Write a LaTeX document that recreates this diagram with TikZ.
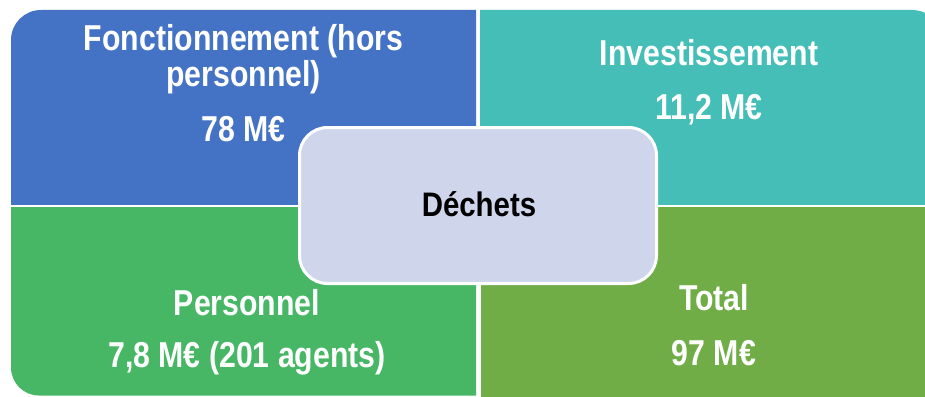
\documentclass[tikz,border=0pt]{standalone}
\usepackage{fontspec}
\setmainfont{Liberation Sans}
\newfontfamily\qfont[FakeStretch=0.84]{Liberation Sans Bold}
\newfontfamily\cfont[FakeStretch=0.865]{Liberation Sans Bold}
\definecolor{qblue}{HTML}{4472C4}
\definecolor{qteal}{HTML}{45BEB8}
\definecolor{qgreen}{HTML}{47B765}
\definecolor{qolive}{HTML}{70AD47}
\definecolor{qcenter}{HTML}{CFD5EA}
\tikzset{
  qtext/.style={anchor=base, text=white, inner sep=0pt, font=\qfont\fontsize{36}{36}\selectfont},
  ctext/.style={draw=white, line width=3pt, fill=qcenter, rounded corners=28pt,
    minimum width=357pt, minimum height=156pt, inner sep=0pt},
}
\begin{document}
\begin{tikzpicture}[x=1pt,y=-1pt]
\useasboundingbox (0,0) rectangle (925,396);
\fill[white] (0,0) rectangle (925,396);
% quadrants
\begin{scope}
  \clip (11,10) rectangle (476,204);
  \fill[qblue, rounded corners=30pt] (11,10) rectangle (540,260);
\end{scope}
\begin{scope}
  \clip (480,10) rectangle (925,204);
  \fill[qteal, rounded corners=30pt] (420,10) rectangle (942,260);
\end{scope}
\begin{scope}
  \clip (11,207.5) rectangle (476,396);
  \fill[qgreen, rounded corners=28pt] (11,150) rectangle (540,395.5);
\end{scope}
\begin{scope}
  \clip (481,207.5) rectangle (925,396);
  \fill[qolive, rounded corners=28pt] (420,150) rectangle (946,420);
\end{scope}
% texts
\node[qtext] (f1) at (243.5,51) {Fonctionnement (hors};
\node[qtext] (f2) at (243.5,86) {personnel)};
\node[qtext] (f3) at (243.5,141) {78 M€};
\node[qtext] (i1) at (709,66) {Investissement};
\node[qtext] (i2) at (709,119) {11,2 M€};
\node[qtext] (p1) at (247,315) {Personnel};
\node[qtext] (p2) at (247,367) {7,8 M€ (201 agents)};
\node[qtext] (t1) at (714,310) {Total};
\node[qtext] (t2) at (714,365) {97 M€};
% centre
\node[ctext] (c) at (478,205.5) {};
\node[anchor=base, inner sep=0pt, font=\cfont\fontsize{34}{34}\selectfont] (cl) at (479,216) {Déchets};
\end{tikzpicture}
\end{document}
